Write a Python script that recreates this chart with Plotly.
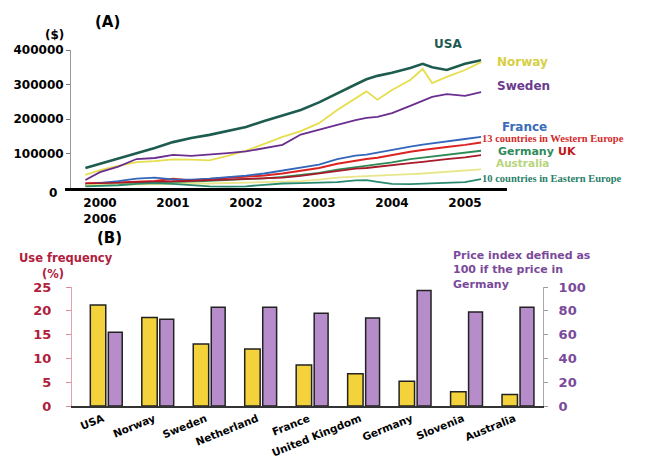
import plotly.graph_objects as go

# ---------------- Panel A data (values in $) ----------------
years = [1999.8, 2000.0, 2000.25, 2000.5, 2000.75, 2001.0, 2001.25, 2001.5, 2001.75,
         2002.0, 2002.25, 2002.5, 2002.75, 2003.0, 2003.25, 2003.5, 2003.65, 2003.8,
         2004.0, 2004.25, 2004.42, 2004.55, 2004.75, 2005.0, 2005.22]
usa = [58, 70, 87, 101, 116, 133, 145, 154, 165, 177, 194, 209, 226, 248, 275, 300, 315, 325,
       334, 348, 360, 350, 342, 360, 370]
norway = [38, 52, 64, 75, 78, 83, 82, 80, 93, 108, 128, 148, 165, 188, 226, 261, 280, 256,
          284, 313, 345, 304, 322, 342, 365]
sweden = [23, 46, 62, 84, 87, 96, 93, 96, 101, 106, 116, 125, 155, 170, 183, 197, 203, 206,
          217, 238, 252, 264, 272, 267, 278]
france = [10, 14, 20, 27, 30, 25, 24, 27, 31, 36, 42, 50, 58, 68, 84, 94, 97, 103,
          112, 120, 126, 130, 136, 142, 148]
west_europe = [14, 14, 16, 18, 20, 27, 22, 26, 29, 32, 36, 42, 50, 58, 70, 80, 84, 88,
               96, 105, 110, 114, 119, 125, 132]
germany = [8, 9, 10, 12, 14, 16, 18, 20, 23, 26, 28, 32, 38, 44, 53, 60, 64, 68,
           74, 84, 88, 92, 97, 103, 108]
uk = [12, 13, 14, 16, 18, 19, 21, 23, 25, 27, 28, 30, 35, 42, 50, 56, 58, 62,
      66, 72, 76, 80, 84, 89, 95]
australia = [8, 9, 10, 10, 11, 12, 13, 13, 14, 15, 16, 17, 20, 24, 30, 33, 34, 35,
             38, 40, 42, 44, 47, 51, 54]
east_europe = [5, 6, 8, 12, 14, 12, 8, 5, 4, 5, 9, 13, 14, 15, 17, 22, 23, 18,
               12, 11, 12, 13, 14, 17, 26]

year_ticks = [2000, 2001, 2002, 2003, 2004, 2005]
year_labels = ["2000<br>2006", "2001", "2002", "2003", "2004", "2005"]
dollar_ticks = [100000, 200000, 300000, 400000]
dollar_labels = ["100000", "200000", "300000", "400000"]

# ---------------- Panel B data ----------------
countries = ["USA", "Norway", "Sweden", "Netherland", "France", "United Kingdom",
             "Germany", "Slovenia", "Australia"]
use_freq = [21.2, 18.6, 13.0, 12.0, 8.6, 6.8, 5.2, 3.0, 2.4]
price_index = [62, 73, 83, 83, 78, 74, 97, 79, 83]
freq_ticks = [0, 5, 10, 15, 20, 25]
price_ticks = [0, 20, 40, 60, 80, 100]

W, H = 653, 460
def px(x):
    return x / W
def py(y):
    return 1 - y / H

BOLD = dict(family="DejaVu Sans", weight="bold")

fig = go.Figure()

series = [
    ("USA", usa, "#1e5c50", 2.6),
    ("Norway", norway, "#e6de4e", 1.8),
    ("Sweden", sweden, "#6a2e8e", 1.8),
    ("13 countries in Western Europe", west_europe, "#dd2222", 2.0),
    ("France", france, "#3366bb", 1.8),
    ("Germany", germany, "#2e8b57", 1.8),
    ("UK", uk, "#a81a28", 1.8),
    ("Australia", australia, "#e8e68a", 1.8),
    ("10 countries in Eastern Europe", east_europe, "#2a8a70", 1.8),
]
for name, vals, col, w in series:
    fig.add_trace(go.Scatter(x=years, y=[v * 1000 for v in vals], mode="lines", name=name,
                             line=dict(color=col, width=w), xaxis="x", yaxis="y",
                             showlegend=False))

fig.add_trace(go.Bar(x=countries, y=use_freq, xaxis="x2", yaxis="y2", width=0.30, offset=-0.32,
                     marker=dict(color="#f3d23b", line=dict(color="#222222", width=1.5)),
                     showlegend=False))
fig.add_trace(go.Bar(x=countries, y=price_index, xaxis="x2", yaxis="y3", width=0.27, offset=0.03,
                     marker=dict(color="#b68dca", line=dict(color="#222222", width=1.5)),
                     showlegend=False))

x0 = 2000 + (65 - 100) / 73
x1 = 2000 + (507 - 100) / 73

fig.update_layout(
    width=W, height=H, margin=dict(l=0, r=0, t=0, b=0, autoexpand=False),
    paper_bgcolor="white", plot_bgcolor="white",
    font=dict(family="DejaVu Sans", color="black"),
    xaxis=dict(domain=[px(65), px(507)], range=[x0, x1], anchor="y", automargin=False,
               showline=True, linecolor="black", linewidth=2.5, showgrid=False, zeroline=False,
               tickvals=year_ticks, ticktext=year_labels, ticks="",
               tickfont=dict(size=12, **BOLD), ticklabelstandoff=2),
    yaxis=dict(domain=[py(188), py(50)], range=[0, 400000], anchor="free", position=px(70),
               automargin=False,
               showline=True, linecolor="#999999", linewidth=1, showgrid=False, zeroline=False,
               ticks="outside", ticklen=4, tickcolor="#777777", tickvals=dollar_ticks,
               ticktext=dollar_labels, tickfont=dict(size=12, **BOLD)),
    xaxis2=dict(domain=[px(72), px(543)], range=[-0.676, 8.476], anchor="y2", type="category",
                automargin=False,
                showline=True, linecolor="#333333", linewidth=1.5, showgrid=False, zeroline=False,
                ticks="", tickangle=-22, tickfont=dict(size=10.5, **BOLD),
                ticklabelstandoff=1, ticklabelshift=-4),
    yaxis2=dict(domain=[py(406), py(287)], range=[0, 25], anchor="x2", automargin=False,
                showline=True, linecolor="#e2a4ac", linewidth=1, showgrid=False, zeroline=False,
                ticks="outside", ticklen=5, tickcolor="#d88a95", tickvals=freq_ticks,
                tickfont=dict(size=13, color="#b0203c", **BOLD), ticklabelstandoff=12),
    yaxis3=dict(domain=[py(406), py(287)], range=[0, 100], anchor="x2", overlaying="y2",
                automargin=False,
                side="right", showline=True, linecolor="#aaaaaa", linewidth=1, showgrid=False,
                zeroline=False, ticks="outside", ticklen=4, tickcolor="#999999",
                tickvals=price_ticks, tickfont=dict(size=13, color="#7a4a9a", **BOLD),
                ticklabelstandoff=8),
    barmode="overlay",
)

ann = [
    ("(A)", 93, 22, "black", 15, "DejaVu Sans"),
    ("($)", 43, 35, "black", 12, "DejaVu Sans"),
    ("0", 47, 193, "black", 12, "DejaVu Sans"),
    ("USA", 432, 44, "#1f5a52", 12, "DejaVu Sans"),
    ("Norway", 495, 62, "#d6cf45", 12, "DejaVu Sans"),
    ("Sweden", 495, 86, "#6a3a8f", 12, "DejaVu Sans"),
    ("France", 500, 126.5, "#3a6cb8", 12, "DejaVu Sans"),
    ("13 countries in Western Europe", 480, 138.5, "#d42a2a", 10.5, "Liberation Serif"),
    ("Germany", 496, 151, "#2f8a5a", 11, "DejaVu Sans"),
    ("UK", 556, 151, "#c01818", 11, "DejaVu Sans"),
    ("Australia", 494, 163, "#b8d47c", 10.5, "DejaVu Sans"),
    ("10 countries in Eastern Europe", 480, 178, "#2a7f6a", 10.5, "Liberation Serif"),
    ("(B)", 95, 238, "black", 15, "DejaVu Sans"),
    ("Use frequency", 17, 258, "#b0203c", 11.5, "DejaVu Sans"),
    ("(%)", 40, 274, "#b0203c", 11.5, "DejaVu Sans"),
    ("Price index defined as<br>100 if the price in<br>Germany", 451, 270, "#7a4a9a", 11,
     "DejaVu Sans"),
]
for text, x, y, col, size, fam in ann:
    fig.add_annotation(text=text, x=px(x), y=py(y), xref="paper", yref="paper",
                       xanchor="left", yanchor="middle", align="left", showarrow=False,
                       font=dict(family=fam, size=size, color=col, weight="bold"))

fig.write_html("out.html", config={"displayModeBar": False},
               post_script="document.body.style.margin='0';document.body.style.padding='0';")
